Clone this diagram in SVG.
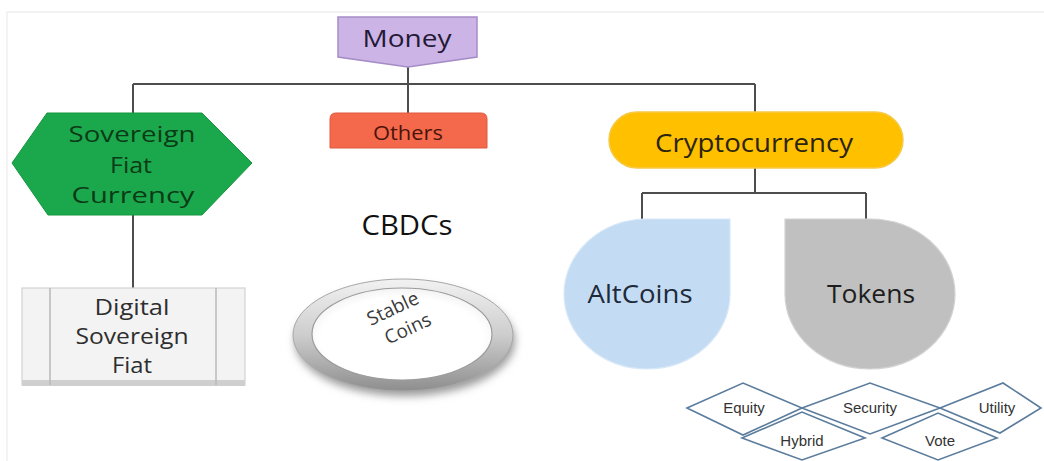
<svg xmlns="http://www.w3.org/2000/svg" width="1044" height="461" viewBox="0 0 1044 461">
<defs>
<style>
.t{font-family:'Open Sans','Noto Sans','DejaVu Sans',sans-serif;text-anchor:middle;}
.d{font-family:'Liberation Sans',Arial,sans-serif;font-size:15px;fill:#333333;text-anchor:middle;}
.conn{stroke:#4d4d4d;stroke-width:2;fill:none;}
.dia{fill:none;stroke:#5b7c9c;stroke-width:1.6;}
</style>
<linearGradient id="ringG" x1="0" y1="0" x2="0" y2="1">
<stop offset="0" stop-color="#f2f2f2"/>
<stop offset="0.5" stop-color="#cdcdcd"/>
<stop offset="1" stop-color="#8e8e8e"/>
</linearGradient>
<radialGradient id="inG" cx="0.5" cy="0.55" r="0.6">
<stop offset="0.75" stop-color="#ffffff"/>
<stop offset="1" stop-color="#ededed"/>
</radialGradient>
<filter id="blur" x="-20%" y="-20%" width="140%" height="140%">
<feGaussianBlur stdDeviation="4"/>
</filter>
</defs>
<rect width="1044" height="461" fill="#ffffff"/>
<path d="M7,461 V12 H1044" fill="none" stroke="#f0f0f0" stroke-width="1.5"/>

<g id="connectors">
<path class="conn" d="M133,84 H755"/>
<path class="conn" d="M408,67 V113"/>
<path class="conn" d="M133,84 V113"/>
<path class="conn" d="M755,84 V112"/>
<path class="conn" d="M133,215 V288"/>
<path class="conn" d="M755,168 V193 M642,193 H866 M642,193 V219 M866,193 V219"/>
</g>

<g id="money">
<path d="M338,17 H477 V57 L408,67 L338,57 Z" fill="#cdb4e6" stroke="#a58cc8" stroke-width="1.5"/>
<text class="t" x="407" y="47" font-size="23" fill="#231a36" textLength="89" lengthAdjust="spacingAndGlyphs">Money</text>
</g>

<g id="others">
<path d="M330,148 V119 Q330,113 336,113 H481 Q487,113 487,119 V148 Z" fill="#f4694c" stroke="#e0583c" stroke-width="1"/>
<text class="t" x="408" y="140" font-size="20" fill="#4a1409" textLength="70" lengthAdjust="spacingAndGlyphs">Others</text>
</g>

<g id="sovereign">
<path d="M12,163 L47,113 H202 L252,163 L202,215 H48 Z" fill="#1ba84c" stroke="#17963f" stroke-width="1"/>
<text class="t" x="132" y="142" font-size="22" fill="#0b3a16" textLength="127" lengthAdjust="spacingAndGlyphs">Sovereign</text>
<text class="t" x="131" y="173" font-size="22" fill="#0b3a16" textLength="42" lengthAdjust="spacingAndGlyphs">Fiat</text>
<text class="t" x="133" y="203" font-size="22" fill="#0b3a16" textLength="123" lengthAdjust="spacingAndGlyphs">Currency</text>
</g>

<g id="digital">
<rect x="22" y="288" width="223" height="97" fill="#f3f3f3" stroke="#d2d2d2" stroke-width="1.2"/>
<rect x="22" y="380" width="223" height="6" fill="#cfcfcf"/>
<path d="M50,288 V385 M216,288 V385" stroke="#b9b9b9" stroke-width="1.5"/>
<text class="t" x="132" y="315" font-size="22" fill="#2e2e2e" textLength="75" lengthAdjust="spacingAndGlyphs">Digital</text>
<text class="t" x="132" y="344" font-size="22" fill="#2e2e2e" textLength="113" lengthAdjust="spacingAndGlyphs">Sovereign</text>
<text class="t" x="132" y="373" font-size="22" fill="#2e2e2e" textLength="40" lengthAdjust="spacingAndGlyphs">Fiat</text>
</g>

<g id="cbdcs">
<text class="t" x="407" y="235" font-size="27" fill="#111111" textLength="91" lengthAdjust="spacingAndGlyphs">CBDCs</text>
</g>

<g id="stablecoins">
<ellipse cx="405" cy="341" rx="110" ry="55" fill="#9a9a9a" filter="url(#blur)"/>
<ellipse cx="403" cy="335" rx="110" ry="56" fill="url(#ringG)" stroke="#a8a8a8" stroke-width="1"/>
<ellipse cx="402" cy="334" rx="90" ry="46" fill="url(#inG)" stroke="#9c9c9c" stroke-width="1.2"/>
<text class="t" font-size="19" fill="#3a3a3a" transform="translate(393,309) rotate(-25)" y="6">Stable</text>
<text class="t" font-size="19" fill="#3a3a3a" transform="translate(408,329) rotate(-25)" y="6">Coins</text>
</g>

<g id="cryptocurrency">
<rect x="609" y="112" width="294" height="56" rx="28" fill="#ffc000" stroke="#f5c94a" stroke-width="1.5"/>
<text class="t" x="754" y="152" font-size="26" fill="#2b2410" textLength="198" lengthAdjust="spacingAndGlyphs">Cryptocurrency</text>
</g>

<g id="altcoins">
<path d="M647,219 L730,219 L730,294 A83 75 0 1 1 647,219 Z" fill="#c3dcf4" stroke="#d8e8f8" stroke-width="1.2"/>
<text class="t" x="640" y="303" font-size="25" fill="#1e2a38" textLength="105" lengthAdjust="spacingAndGlyphs">AltCoins</text>
</g>

<g id="tokens">
<path d="M870,219 L785,219 L785,294 A85 75 0 1 0 870,219 Z" fill="#c0c0c0" stroke="#d2d2d2" stroke-width="1.2"/>
<text class="t" x="871" y="303" font-size="25" fill="#1e1e1e" textLength="88" lengthAdjust="spacingAndGlyphs">Tokens</text>
</g>

<g id="equity">
<path class="dia" d="M687,408 L743,383 L802,408 L743,435 Z"/>
<text class="d" x="744" y="413">Equity</text>
</g>
<g id="security">
<path class="dia" d="M802,408 L870,383 L940,408 L870,434 Z"/>
<text class="d" x="870" y="413">Security</text>
</g>
<g id="utility">
<path class="dia" d="M940,408 L1003,383 L1041,408 L1000,433 Z"/>
<text class="d" x="997" y="413">Utility</text>
</g>
<g id="hybrid">
<path class="dia" d="M742,438 L802,412 L865,438 L802,460 Z"/>
<text class="d" x="802" y="446">Hybrid</text>
</g>
<g id="vote">
<path class="dia" d="M882,438 L938,413 L997,438 L938,460 Z"/>
<text class="d" x="940" y="446">Vote</text>
</g>
</svg>
